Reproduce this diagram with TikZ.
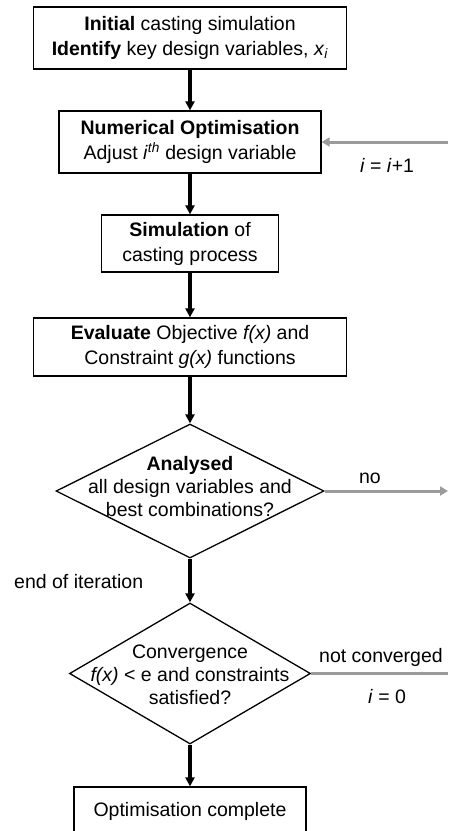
\documentclass[tikz,border=0pt]{standalone}
\usepackage{fontspec}
\setmainfont{Liberation Sans}
\usepackage{tikz}
\usetikzlibrary{arrows.meta,shapes.geometric}
\definecolor{ink}{HTML}{000000}
\definecolor{loopgrey}{RGB}{155,155,155}
\tikzset{>={Triangle[length=9pt,width=9pt]},box/.style={draw=ink,line width=1.3pt,align=center,inner sep=0pt,font=\fontsize{19.5}{25}\selectfont},dia/.style={diamond,draw=ink,line width=1.3pt,inner sep=0pt},txt/.style={align=center,inner sep=0pt,font=\fontsize{19.5}{23}\selectfont},lbl/.style={inner sep=0pt,font=\fontsize{19.5}{23}\selectfont},arr/.style={->,line width=3.5pt,ink},back/.style={loopgrey,line width=3pt,>={Triangle[length=8pt,width=9pt]}}}

\begin{document}
\begin{tikzpicture}[x=1pt,y=-1pt]
\useasboundingbox (0,0) rectangle (448,831);
\node[box,minimum width=313pt,minimum height=62pt] (init) at (190,38) {\textbf{Initial} casting simulation\\\textbf{Identify} key design variables, \textit{x}\textsubscript{\textit{i}}};
\node[box,minimum width=262pt,minimum height=62pt] (opt) at (190,142) {\textbf{Numerical Optimisation}\\Adjust \textit{i}\textsuperscript{\textit{th}} design variable};
\node[box,minimum width=177pt,minimum height=57pt] (sim) at (190,243.5) {\textbf{Simulation} of\\casting process};
\node[box,minimum width=313pt,minimum height=58pt] (eval) at (190,347) {\textbf{Evaluate} Objective \textit{f(x)} and\\Constraint \textit{g(x)} functions};
\node[dia,minimum width=268pt,minimum height=134pt] (anal) at (190,491) {};
\node[txt] (analtxt) at (190,487) {\textbf{Analysed}\\all design variables and\\best combinations?};
\node[dia,minimum width=241pt,minimum height=141pt] (conv) at (190,673.5) {};
\node[txt] (convtxt) at (190,675) {Convergence\\\textit{f(x)} < e and constraints\\satisfied?};
\node[box,minimum width=232pt,minimum height=48pt] (done) at (190,811) {Optimisation complete};
\coordinate (rin) at (448,142);
\coordinate (rno) at (448,491);
\coordinate (rnc) at (448,673.5);
\draw[arr] (init) -- (opt);
\draw[arr] (opt) -- (sim);
\draw[arr] (sim) -- (eval);
\draw[arr] (eval) -- (anal);
\draw[arr] (anal) -- (conv);
\draw[arr] (conv) -- (done);
\draw[back,->] (rin) -- (opt);
\draw[back,->] (anal) -- (rno);
\draw[back] (conv) -- (rnc);
\node[lbl] (inc) at (387,165) {\textit{i} = \textit{i}+1};
\node[lbl] (no) at (370,478) {no};
\node[lbl,anchor=west] (endit) at (14,582) {end of iteration};
\node[lbl] (notconv) at (381,657) {not converged};
\node[lbl] (reset) at (387,697) {\textit{i} = 0};
\end{tikzpicture}
\end{document}
